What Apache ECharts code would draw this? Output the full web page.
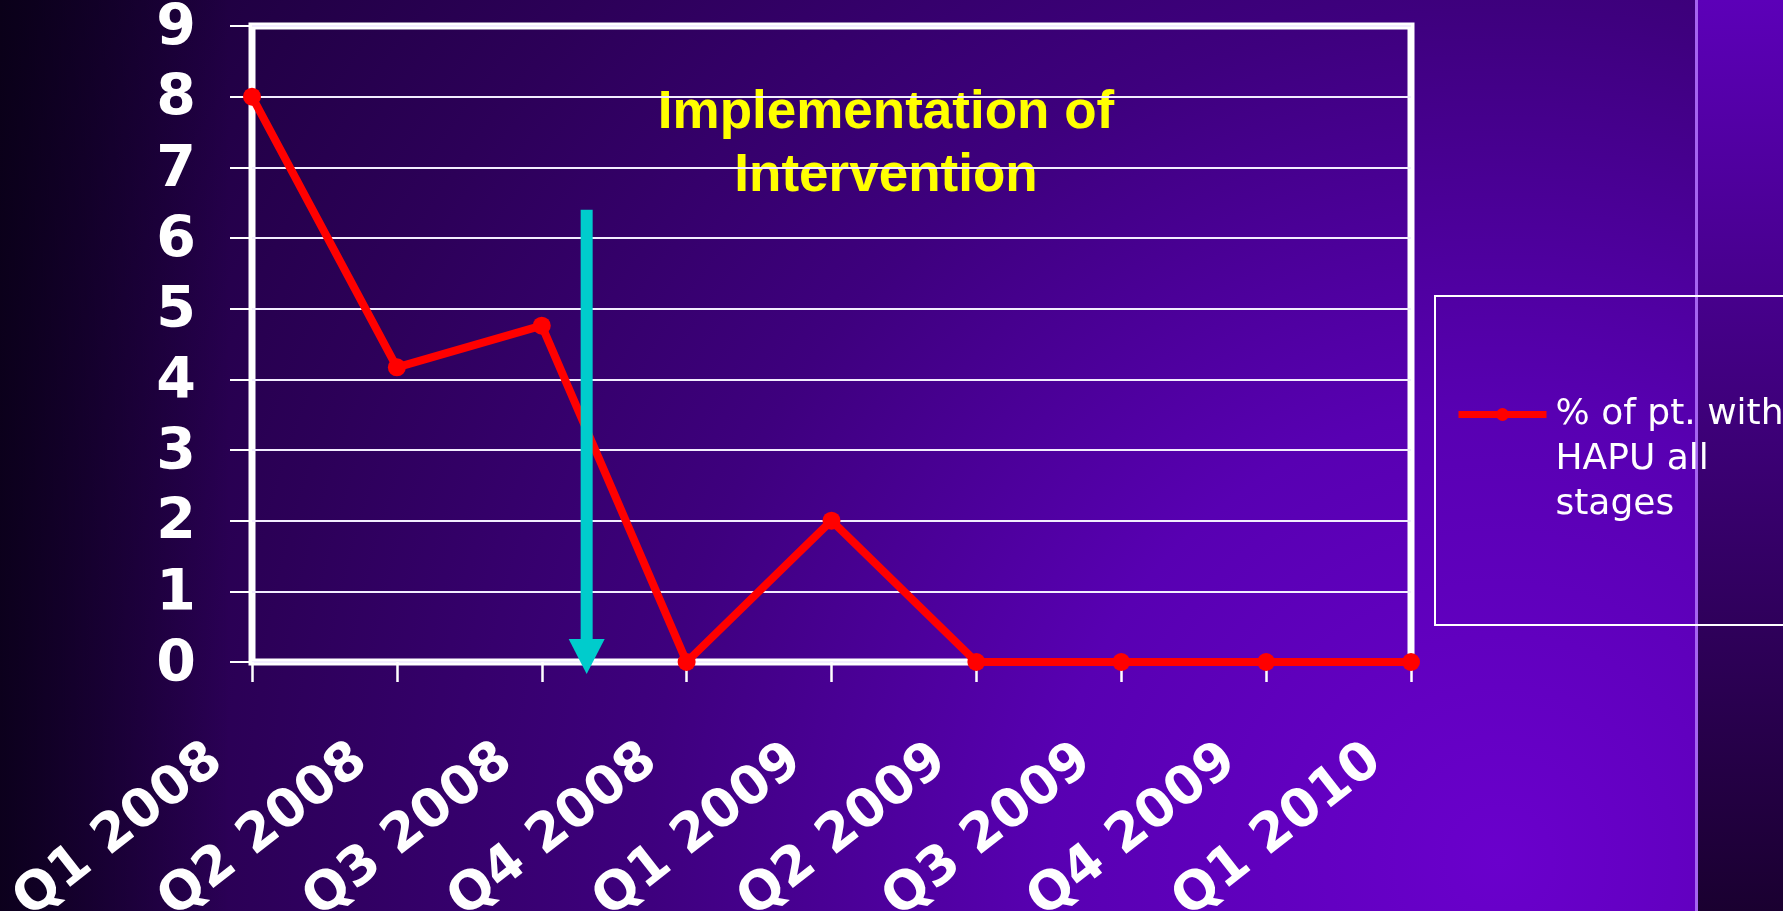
<!DOCTYPE html>
<html>
<head>
<meta charset="utf-8">
<script src="https://cdn.jsdelivr.net/npm/echarts@6/dist/echarts.min.js"></script>
<style>
	body {margin: 0; background: #000;}
	#wrap {
		position: relative; width: 1783px; height: 911px; overflow: hidden;
		background:
			linear-gradient(to right, rgba(5, 0, 15, 0.75) 0px, rgba(5, 0, 15, 0) 230px),
			radial-gradient(circle at 1500px 860px, #6a00cc 0px, #5800b2 450px, #3e007e 850px, #2c0058 1250px, #190036 1700px);
	}
	#strip {
		position: absolute; left: 1695px; top: 0; width: 85px; height: 911px;
		border-left: 3px solid #a565f0;
		background: linear-gradient(#5c00b8, #1a0030);
	}
	#chart {position: absolute; left: 0; top: 0; width: 1783px; height: 911px;}
</style>
</head>
<body>
<div id="wrap">
	<div id="strip"></div>
	<div id="chart"></div>
</div>
<script>
	const quarters = ['Q1 2008', 'Q2 2008', 'Q3 2008', 'Q4 2008', 'Q1 2009', 'Q2 2009', 'Q3 2009', 'Q4 2009', 'Q1 2010'];
	const hapuPct = [8, 4.17, 4.76, 0, 2, 0, 0, 0, 0];
	const seriesName = '% of pt. with HAPU all stages';
	const legendLines = ['% of pt. with', 'HAPU all', 'stages'];

	// intervention arrow: x in quarter index units, from / to in % units
	const arrowAt = 2.31;
	const arrowFrom = 6.4;
	const arrowTo = -0.17;
	const noteLines = ['Implementation of', 'Intervention'];

	let chart = echarts.init(document.getElementById('chart'));

	const option = {
		backgroundColor: 'transparent',
		animation: false,
		grid: {
			left: 252,
			right: 372,
			top: 26,
			bottom: 249,
			outerBoundsMode: 'none',
			containLabel: false,
			show: true,
			borderColor: '#ffffff',
			borderWidth: 7,
			backgroundColor: 'transparent'
		},
		xAxis: [
			{
				type: 'category',
				data: quarters,
				boundaryGap: false,
				axisLine: {show: false},
				axisTick: {
					show: true,
					length: 20,
					lineStyle: {color: '#ffffff', width: 2.5}
				},
				axisLabel: {
					interval: 0,
					rotate: 38,
					margin: 65,
					padding: [0, 45, 0, 0],
					color: '#ffffff',
					fontFamily: 'DejaVu Sans',
					fontWeight: 'bold',
					fontSize: 53
				},
				splitLine: {show: false}
			},
			{
				// hidden helper axis for the arrow position
				type: 'value',
				min: 0,
				max: quarters.length - 1,
				show: false
			}
		],
		yAxis: {
			type: 'value',
			min: 0,
			max: 9,
			interval: 1,
			axisLine: {show: false},
			axisTick: {
				show: true,
				length: 22,
				lineStyle: {color: '#ffffff', width: 2}
			},
			axisLabel: {
				margin: 56,
				formatter: v => '{n|' + v + '}',
				rich: {
					n: {
						padding: [8, 0, 0, 0],
						color: '#ffffff',
						fontFamily: 'DejaVu Sans',
						fontWeight: 'bold',
						fontSize: 57
					}
				}
			},
			splitLine: {
				lineStyle: {color: '#f2ecff', width: 2.2}
			}
		},
		legend: {
			data: [seriesName],
			orient: 'vertical',
			left: 1435,
			top: 296,
			padding: [6, 60, 98, 20],
			borderColor: '#ffffff',
			borderWidth: 2,
			itemWidth: 88,
			itemHeight: 16,
			selectedMode: false,
			lineStyle: {width: 7},
			// two empty lines first so the first real line sits on the icon
			formatter: () => '\n\n' + legendLines.join('\n'),
			textStyle: {
				color: '#ffffff',
				fontFamily: 'DejaVu Sans',
				fontSize: 36,
				lineHeight: 45,
				padding: [0, 0, 0, 4]
			}
		},
		graphic: [
			{
				type: 'text',
				x: 886,
				y: 145,
				style: {
					text: noteLines.join('\n'),
					fill: '#ffff00',
					font: 'bold 53px "Liberation Sans"',
					lineHeight: 63,
					align: 'center',
					verticalAlign: 'middle'
				}
			}
		],
		series: [
			{
				name: seriesName,
				type: 'line',
				data: hapuPct,
				z: 2,
				color: '#ff0000',
				symbol: 'circle',
				symbolSize: 18,
				lineStyle: {color: '#ff0000', width: 8},
				itemStyle: {color: '#ff0000'}
			},
			{
				type: 'custom',
				name: 'arrow',
				xAxisIndex: 1,
				yAxisIndex: 0,
				z: 3,
				clip: false,
				data: [[arrowAt, arrowFrom, arrowTo]],
				renderItem: (params, api) => {
					const top = api.coord([api.value(0), api.value(1)]);
					const tip = api.coord([api.value(0), api.value(2)]);
					const headH = 35, headW = 18, shaftW = 6;
					return {
						type: 'group',
						children: [
							{
								type: 'rect',
								shape: {x: top[0] - shaftW, y: top[1], width: shaftW * 2, height: tip[1] - headH - top[1] + 1},
								style: {fill: '#00cccc'}
							},
							{
								type: 'polygon',
								shape: {points: [[tip[0] - headW, tip[1] - headH], [tip[0] + headW, tip[1] - headH], [tip[0], tip[1]]]},
								style: {fill: '#00cccc'}
							}
						]
					};
				}
			}
		]
	};

	chart.setOption(option);
</script>
</body>
</html>
